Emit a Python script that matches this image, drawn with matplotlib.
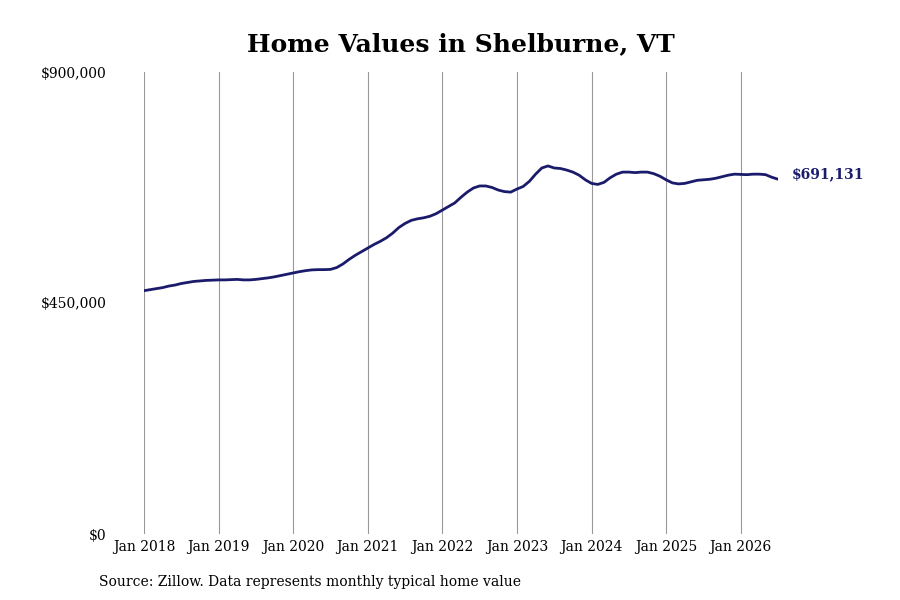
"""Home values line chart for Shelburne, VT."""
import matplotlib
matplotlib.use('Agg')
import matplotlib.pyplot as plt
from matplotlib.ticker import FuncFormatter

# monthly typical home value, in $ thousands, Jan 2018 .. Jul 2026
values_k = [
    474, 476, 478, 480, 483, 485, 488, 490, 492, 493, 494, 494.5,      # 2018
    495, 495, 495.5, 496, 495, 495, 496, 497.5, 499, 501, 503.5, 506,  # 2019
    508.5, 511, 513, 514.5, 515, 515, 515.5, 519, 526, 535, 543, 550,  # 2020
    557, 564, 570, 577, 586, 597, 605, 611, 614, 616, 619, 624,        # 2021
    631, 638, 645, 656, 666, 674, 678, 678, 675, 670, 667, 666,        # 2022
    672, 677, 687, 701, 713, 717, 713, 712, 709, 705, 699, 690,        # 2023
    683, 681, 685, 694, 701, 705, 705, 704, 705, 705, 702, 697,        # 2024
    690, 684, 682, 683, 686, 689, 690, 691, 693, 696, 699, 701,        # 2025
    700.5, 700, 701, 701, 700, 695, 691.131,                           # 2026
]
tick_labels = ['Jan 2018', 'Jan 2019', 'Jan 2020', 'Jan 2021', 'Jan 2022',
               'Jan 2023', 'Jan 2024', 'Jan 2025', 'Jan 2026']
y_ticks = [0, 450000, 900000]
last_label = '$691,131'

plt.rcParams['font.family'] = ['DejaVu Serif']

values = [v * 1000 for v in values_k]
months = list(range(len(values)))

fig = plt.figure(figsize=(9, 6), dpi=100)
ax = fig.add_axes([144 / 900, 1 - 534 / 600, (778 - 144) / 900, (534 - 72) / 600])

ax.plot(months, values, color='#1b1b6b', linewidth=2.0, solid_capstyle='round')

ax.set_xlim(0, len(values) - 1)
ax.set_ylim(0, 900000)
ax.set_xticks([12 * i for i in range(len(tick_labels))])
ax.set_xticklabels(tick_labels, fontsize=10)
ax.set_yticks(y_ticks)
ax.yaxis.set_major_formatter(FuncFormatter(lambda v, _: f'${v:,.0f}'))
ax.tick_params(axis='y', length=0, pad=27, labelsize=10)
ax.tick_params(axis='x', length=0, pad=4)
ax.grid(axis='x', color='#999999', linewidth=0.8)
ax.grid(axis='y', visible=False)
for s in ax.spines.values():
    s.set_visible(False)

ax.annotate(last_label, xy=(months[-1], values[-1]), xytext=(10, 3.5),
            textcoords='offset points', ha='left', va='center',
            fontsize=10, fontweight='bold', color='#1b1b6b')

fig.text(461 / 900, 1 - 44 / 600, 'Home Values in Shelburne, VT',
         ha='center', va='center', fontsize=18, fontweight='bold')
fig.text(99 / 900, 1 - 582 / 600,
         'Source: Zillow. Data represents monthly typical home value',
         ha='left', va='center', fontsize=10)

fig.savefig('out.png', dpi=100)
